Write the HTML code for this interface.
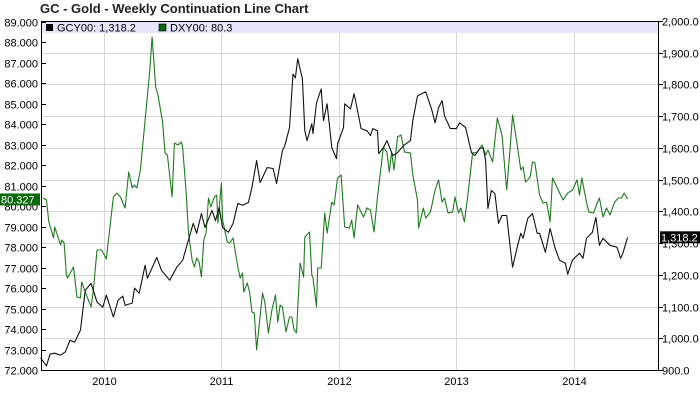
<!DOCTYPE html>
<html><head><meta charset="utf-8"><style>
body{margin:0;background:#fff;width:700px;height:411px;overflow:hidden;font-family:"Liberation Sans",sans-serif}
svg text{font-family:"Liberation Sans",sans-serif}
</style></head><body>
<svg id="chart" width="700" height="411" xmlns="http://www.w3.org/2000/svg">
<text x="40" y="13" font-size="13" font-weight="bold" fill="#222">GC - Gold - Weekly Continuation Line Chart</text>
</svg>
<script>
const goldDates=[2009.46,2009.51,2009.54,2009.58,2009.63,2009.67,2009.71,2009.75,2009.80,2009.84,2009.89,2009.94,2009.99,2010.02,2010.08,2010.12,2010.16,2010.18,2010.24,2010.26,2010.30,2010.35,2010.37,2010.45,2010.49,2010.56,2010.62,2010.67,2010.76,2010.79,2010.83,2010.86,2010.92,2010.95,2010.98,2011.01,2011.06,2011.10,2011.14,2011.18,2011.23,2011.26,2011.30,2011.33,2011.39,2011.44,2011.47,2011.52,2011.54,2011.58,2011.61,2011.63,2011.65,2011.69,2011.71,2011.73,2011.77,2011.78,2011.81,2011.85,2011.87,2011.90,2011.94,2011.98,2011.99,2012.04,2012.05,2012.10,2012.13,2012.16,2012.19,2012.24,2012.27,2012.29,2012.33,2012.34,2012.38,2012.41,2012.46,2012.50,2012.55,2012.61,2012.63,2012.67,2012.74,2012.79,2012.82,2012.85,2012.88,2012.90,2012.95,2013.00,2013.03,2013.08,2013.13,2013.16,2013.20,2013.23,2013.25,2013.27,2013.30,2013.33,2013.36,2013.39,2013.43,2013.46,2013.48,2013.52,2013.55,2013.57,2013.61,2013.65,2013.69,2013.71,2013.76,2013.80,2013.84,2013.88,2013.93,2013.95,2013.99,2014.05,2014.08,2014.11,2014.16,2014.19,2014.22,2014.25,2014.31,2014.37,2014.40,2014.42,2014.46];
const goldValues=[938,913,950,953,947,957,994,988,1026,1151,1173,1114,1098,1136,1067,1120,1133,1104,1111,1158,1142,1230,1189,1255,1214,1183,1224,1246,1362,1331,1393,1349,1403,1371,1412,1349,1334,1362,1425,1419,1428,1475,1560,1491,1538,1535,1488,1591,1607,1664,1833,1821,1881,1818,1654,1623,1676,1645,1742,1786,1686,1739,1601,1566,1613,1664,1739,1723,1771,1717,1661,1654,1639,1661,1654,1582,1601,1623,1576,1585,1607,1623,1686,1764,1777,1723,1679,1727,1749,1701,1661,1661,1679,1664,1585,1576,1598,1601,1560,1409,1466,1456,1362,1387,1387,1287,1224,1287,1331,1315,1378,1393,1331,1331,1271,1346,1287,1246,1236,1202,1246,1268,1252,1315,1334,1381,1293,1315,1293,1287,1252,1268,1318.2];
const dxyDates=[2009.48,2009.51,2009.53,2009.57,2009.58,2009.63,2009.64,2009.66,2009.68,2009.69,2009.74,2009.77,2009.80,2009.81,2009.85,2009.89,2009.91,2009.94,2009.98,2010.02,2010.08,2010.11,2010.14,2010.18,2010.21,2010.24,2010.26,2010.28,2010.31,2010.35,2010.39,2010.41,2010.44,2010.46,2010.50,2010.52,2010.54,2010.58,2010.60,2010.63,2010.66,2010.67,2010.70,2010.72,2010.75,2010.77,2010.79,2010.81,2010.83,2010.85,2010.87,2010.89,2010.91,2010.94,2010.96,2010.97,2011.00,2011.01,2011.05,2011.07,2011.10,2011.12,2011.14,2011.16,2011.18,2011.19,2011.22,2011.24,2011.26,2011.28,2011.30,2011.35,2011.37,2011.40,2011.43,2011.46,2011.48,2011.50,2011.52,2011.55,2011.58,2011.60,2011.62,2011.64,2011.67,2011.70,2011.71,2011.75,2011.77,2011.78,2011.81,2011.82,2011.85,2011.88,2011.90,2011.94,2011.96,2011.99,2012.02,2012.05,2012.09,2012.11,2012.13,2012.16,2012.21,2012.24,2012.27,2012.30,2012.33,2012.38,2012.41,2012.43,2012.45,2012.47,2012.50,2012.53,2012.56,2012.61,2012.63,2012.67,2012.68,2012.72,2012.74,2012.78,2012.82,2012.85,2012.88,2012.90,2012.93,2012.97,2012.99,2013.02,2013.04,2013.07,2013.10,2013.14,2013.18,2013.22,2013.25,2013.27,2013.31,2013.35,2013.39,2013.43,2013.46,2013.48,2013.52,2013.55,2013.57,2013.59,2013.63,2013.65,2013.67,2013.71,2013.74,2013.77,2013.80,2013.82,2013.87,2013.91,2013.95,2013.99,2014.03,2014.05,2014.07,2014.11,2014.13,2014.17,2014.20,2014.22,2014.25,2014.28,2014.31,2014.35,2014.38,2014.41,2014.43,2014.46];
const dxyValues=[80.40,80.30,79.23,78.45,78.98,78.10,78.35,78.20,76.64,76.49,77.03,75.56,75.52,76.30,75.66,75.08,75.91,77.86,77.86,77.42,80.45,80.64,80.45,79.91,81.67,80.89,81.03,80.89,81.77,84.2,86.65,88.26,85.82,85.43,84.06,82.60,82.50,80.45,83.08,82.99,83.13,82.84,80.64,78.69,77.37,77.03,77.47,77.27,76.54,78.35,78.69,80.40,79.96,80.45,80.54,79.18,81.13,79.32,78.25,78.20,78.45,77.71,77.03,76.49,76.74,75.81,76.25,75.81,74.83,74.78,72.98,75.76,75.32,73.81,74.93,75.66,74.34,75.17,75.08,73.86,74.59,74.59,73.95,73.81,77.22,76.54,78.49,78.74,76.64,76.49,75.08,76.98,76.98,79.67,78.69,80.20,80.06,81.38,81.52,78.98,78.93,79.32,78.45,80.06,79.47,79.91,79.81,78.74,80.45,82.89,82.64,81.67,82.64,81.77,83.38,83.47,82.64,82.60,81.52,80.30,78.93,79.91,79.42,79.71,80.79,81.28,80.20,80.40,79.67,79.71,80.45,79.67,79.91,79.23,80.54,82.60,82.64,82.99,82.50,82.74,82.16,84.30,83.47,80.79,82.89,84.45,82.99,81.77,81.91,81.18,81.42,82.16,82.11,80.54,80.15,80.20,79.23,81.38,80.79,80.30,80.64,80.79,81.28,80.54,81.38,80.20,79.71,79.67,80.15,80.40,79.47,79.91,79.57,80.20,80.40,80.40,80.64,80.35];
const leftTicks=[72,73,74,75,76,77,78,79,80,81,82,83,84,85,86,87,88,89];
const rightTicks=[900,1000,1100,1200,1300,1400,1500,1600,1700,1800,1900,2000];
const yearTicks=[2010,2011,2012,2013,2014];

const NS="http://www.w3.org/2000/svg";
const svg=document.getElementById('chart');
const L=41,R=658,T=21,B=370;
const xs=d=>104+(d-2010)*117.4;
const yl=v=>B-(v-72)*20.48;
const yr=v=>B-(v-900)*(B-T)/1100;
function mk(tag,attrs,parent){const e=document.createElementNS(NS,tag);for(const k in attrs)e.setAttribute(k,attrs[k]);(parent||svg).appendChild(e);return e;}

// gridlines
rightTicks.forEach(t=>{const y=Math.round(yr(t))+0.5;
 const g=mk('line',{x1:L,x2:R,y1:y,y2:y,stroke:'#d6d6d6','stroke-width':1});
 
 });
yearTicks.forEach(t=>{const x=Math.round(xs(t))+0.5;
 const g=mk('line',{x1:x,x2:x,y1:T,y2:B,stroke:'#d6d6d6','stroke-width':1});
 
 
 const tx=mk('text',{x:x,y:385,'font-size':11,'text-anchor':'middle',fill:'#000'});tx.textContent=t;
 
 });

// legend band
const band=mk('rect',{x:L,y:T,width:R-L,height:12,fill:'#e4e4fa'});



// series
function line(ds,vs,f,col,name){const p=ds.map((d,i)=>(i?'L':'M')+xs(d).toFixed(1)+' '+f(vs[i]).toFixed(1)).join(' ');
 const e=mk('path',{d:p,fill:'none',stroke:col,'stroke-width':1.1,'stroke-linejoin':'round'});
 
 }
line(dxyDates,dxyValues,yl,'#1f7a1f','dxy-line');
line(goldDates,goldValues,yr,'#111','gold-line');

// frame
mk('line',{x1:L,x2:R,y1:T+0.5,y2:T+0.5,stroke:'#000'});
const ax1=mk('line',{x1:L+0.5,x2:L+0.5,y1:T,y2:B,stroke:'#000'});


const ax2=mk('line',{x1:R+0.5,x2:R+0.5,y1:T,y2:B,stroke:'#000'});


const ax3=mk('line',{x1:L,x2:R+1,y1:B+0.5,y2:B+0.5,stroke:'#000'});



// left ticks
leftTicks.forEach(t=>{const y=Math.round(yl(t))+0.5;
 mk('line',{x1:L,x2:L+5,y1:y,y2:y,stroke:'#000'});
 const tx=mk('text',{x:38,y:y+4,'font-size':11,'text-anchor':'end',fill:'#000'});tx.textContent=t.toFixed(3);
 
 });
// right ticks
rightTicks.forEach(t=>{const y=Math.round(yr(t))+0.5;
 mk('line',{x1:R,x2:R+5,y1:y,y2:y,stroke:'#000'});
 const tx=mk('text',{x:662,y:y+4,'font-size':11,fill:'#000'});tx.textContent=t.toLocaleString('en-US',{minimumFractionDigits:1,maximumFractionDigits:1});
 
 });

// last-value badges
const lastD=dxyValues[dxyValues.length-1], lastG=goldValues[goldValues.length-1];
const yb1=yl(80.327);
const b1=mk('rect',{x:0,y:yb1-6,width:40,height:12,fill:'#0a6a0a'});


const t1=mk('text',{x:1,y:yb1+4,'font-size':11,fill:'#fff'});t1.textContent='80.327';
const yb2=yr(lastG);
const b2=mk('rect',{x:660,y:yb2-6,width:40,height:12,fill:'#000'});


const t2=mk('text',{x:661,y:yb2+4,'font-size':11,fill:'#fff'});t2.textContent='1,318.2';

// legend
const s1=mk('rect',{x:46,y:24,width:7,height:7,fill:'#000'});


const l1=mk('text',{x:57,y:31.5,'font-size':11,fill:'#000'});l1.textContent='GCY00: 1,318.2';


const s2=mk('rect',{x:159,y:24,width:7,height:7,fill:'#0a6a0a',stroke:'#000','stroke-width':0.6});


const l2=mk('text',{x:170,y:31.5,'font-size':11,fill:'#000'});l2.textContent='DXY00: 80.3';


</script>
</body></html>
